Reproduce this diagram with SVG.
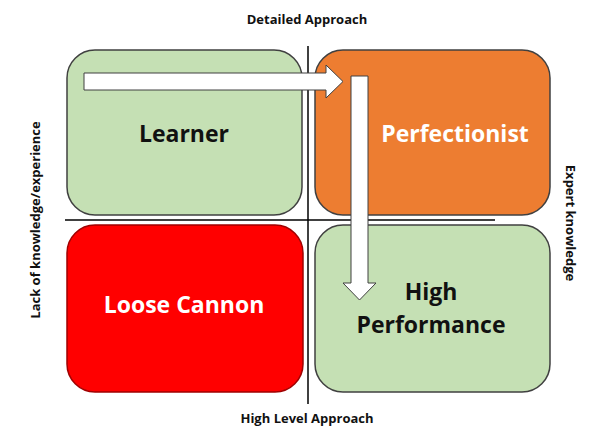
<svg xmlns="http://www.w3.org/2000/svg" width="600" height="441" viewBox="0 0 600 441">
<style>
.box{stroke:#404040;stroke-width:1.5}
.big{font-family:"Open Sans","Liberation Sans",sans-serif;font-weight:700;font-size:23px;text-anchor:middle}
.ax{font-family:"Open Sans","Liberation Sans",sans-serif;font-weight:700;font-size:13px;text-anchor:middle;fill:#111}
.arrow{fill:#fff;stroke:#404040;stroke-width:1}
.axis{stroke:#000;stroke-width:1.5}
</style>
<rect width="600" height="441" fill="#fff"/>
<g id="learner">
<rect class="box" x="67" y="50" width="235" height="165" rx="28" fill="#C5E0B4"/>
<text class="big" x="184" y="142" fill="#111">Learner</text>
</g>
<g id="perfectionist">
<rect class="box" x="315" y="50" width="235" height="165" rx="28" fill="#ED7D31"/>
<text class="big" x="455" y="142" fill="#fff">Perfectionist</text>
</g>
<g id="loose-cannon">
<rect x="67" y="225" width="236" height="167" rx="28" fill="#FF0000" stroke="#A00000" stroke-width="1.5"/>
<text class="big" x="184" y="313" fill="#fff">Loose Cannon</text>
</g>
<g id="high-performance">
<rect class="box" x="315" y="225" width="235" height="167" rx="28" fill="#C5E0B4"/>
<text class="big" x="431" y="300" fill="#111">High</text>
<text class="big" x="431" y="333" fill="#111">Performance</text>
</g>
<g id="connectors">
<line class="axis" x1="308" y1="46" x2="308" y2="404"/>
<line class="axis" x1="65" y1="220" x2="495" y2="220"/>
<polygon class="arrow" points="84,73 326,73 326,65 343,81.5 326,98 326,90 84,90"/>
<polygon class="arrow" points="351,76 368,76 368,283 376,283 359.5,300 343,283 351,283"/>
</g>
<g id="labels">
<text class="ax" x="307" y="24">Detailed Approach</text>
<text class="ax" x="307" y="423">High Level Approach</text>
<text class="ax" transform="translate(40,220) rotate(-90)">Lack of knowledge/experience</text>
<text class="ax" transform="translate(566,223) rotate(90)">Expert knowledge</text>
</g>
</svg>
